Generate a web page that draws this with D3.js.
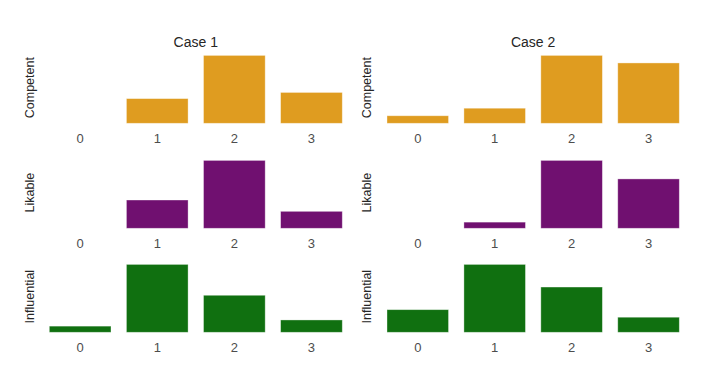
<!DOCTYPE html>
<html>
<head>
<meta charset="utf-8">
<script src="https://cdn.jsdelivr.net/npm/d3@7"></script>
<style>
  body { margin: 0; background: #fff; }
  text { font-family: Arial, "Liberation Sans", sans-serif; }
</style>
</head>
<body>
<script>
// categories and labels
var categories = ["0", "1", "2", "3"];
var cases = ["Case 1", "Case 2"];
var traits = ["Competent", "Likable", "Influential"];

// counts per panel
var case1Competent = [0, 8, 22, 10];
var case1Likable = [0, 10, 24, 6];
var case1Influential = [2, 22, 12, 4];
var case2Competent = [2, 4, 18, 16];
var case2Likable = [0, 2, 22, 16];
var case2Influential = [6, 18, 12, 4];

var colors = ["#df9c20", "#701070", "#107010"];

var values = [
    [case1Competent, case1Likable, case1Influential],
    [case2Competent, case2Likable, case2Influential]
];

// panel layout
var width = 708, height = 382;
var colX = [[41.6, 350], [379.3, 687]];
var rowY = [[52, 123.3], [157, 228.3], [261, 332.3]];

var svg = d3.select("body")
    .append("svg")
    .attr("width", width)
    .attr("height", height);

cases.forEach(function(c, ci) {
    var x = d3.scaleBand()
        .domain(categories)
        .range(colX[ci])
        .paddingInner(0.2)
        .paddingOuter(0.1);

    // column title
    svg.append("text")
        .attr("x", (colX[ci][0] + colX[ci][1]) / 2)
        .attr("y", 46.5)
        .attr("text-anchor", "middle")
        .attr("font-size", "14px")
        .attr("fill", "#262626")
        .text(c);

    traits.forEach(function(t, ri) {
        var data = values[ci][ri];
        var y = d3.scaleLinear()
            .domain([0, d3.max(data) * 1.05])
            .range([rowY[ri][1], rowY[ri][0]]);

        var g = svg.append("g");

        g.selectAll(".bar")
            .data(data)
            .enter()
            .append("rect")
            .attr("class", "bar")
            .attr("x", function(d, i) { return x(categories[i]); })
            .attr("width", x.bandwidth())
            .attr("y", function(d) { return y(d); })
            .attr("height", function(d) { return y(0) - y(d); })
            .attr("fill", colors[ri])
            .attr("stroke", "rgba(255,255,255,0.45)")
            .attr("stroke-width", 0.8);

        // x axis without lines
        var ax = g.append("g")
            .attr("transform", "translate(0," + rowY[ri][1] + ")")
            .call(d3.axisBottom(x).tickSize(0).tickPadding(10.8));
        ax.select(".domain").remove();
        ax.selectAll("text")
            .attr("font-size", "13px")
            .attr("font-family", "Arial, 'Liberation Sans', sans-serif")
            .attr("fill", "#4d4d4d");

        // row label
        g.append("text")
            .attr("transform", "translate(" + (colX[ci][0] - 8) + "," + ((rowY[ri][0] + rowY[ri][1]) / 2) + ") rotate(-90)")
            .attr("text-anchor", "middle")
            .attr("font-size", "12.5px")
            .attr("fill", "#262626")
            .text(t);
    });
});
</script>
</body>
</html>
